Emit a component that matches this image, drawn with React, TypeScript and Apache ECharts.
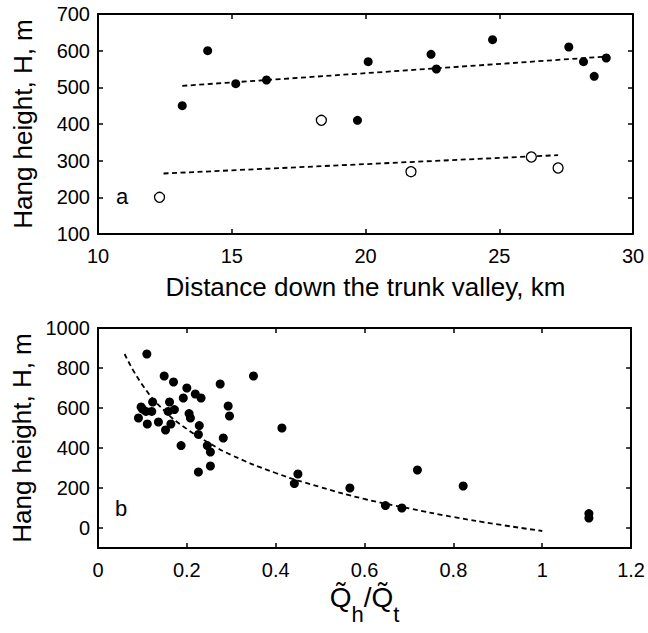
import React, { useEffect, useRef } from 'react';
import * as echarts from 'echarts';

// Panel a: hang height vs distance down the trunk valley
const distFilled = [13.15, 14.1, 15.15, 16.3, 19.7, 20.1, 22.45, 22.65, 24.75, 27.6, 28.15, 28.55, 29.0];
const hangFilled = [450, 600, 510, 520, 410, 570, 590, 550, 630, 610, 570, 530, 580];
const distOpen = [12.3, 18.35, 21.7, 26.2, 27.2];
const hangOpen = [200, 410, 270, 310, 280];
const trendUpperX = [13.15, 29.0];
const trendUpperY = [504, 584];
const trendLowerX = [12.45, 27.2];
const trendLowerY = [265, 315];
const distTicks = { min: 10, max: 30, interval: 5 };
const hangTicksA = { min: 100, max: 700, interval: 100 };

// Panel b: hang height vs discharge ratio
const qRatio = [
  0.110, 0.149, 0.170, 0.200, 0.192, 0.219, 0.232, 0.275, 0.350, 0.293, 0.296, 0.414,
  0.282, 0.123, 0.161, 0.097, 0.091, 0.111, 0.121, 0.108, 0.100, 0.136, 0.158, 0.172,
  0.164, 0.152, 0.205, 0.208, 0.228, 0.226, 0.187, 0.246, 0.253, 0.253, 0.226, 0.450,
  0.442, 0.567, 0.719, 0.822, 0.647, 0.684, 1.105, 1.105,
];
const hangB = [
  870, 760, 730, 700, 650, 670, 650, 720, 760, 610, 560, 500,
  450, 630, 630, 605, 550, 520, 583, 583, 595, 530, 583, 592,
  520, 490, 572, 550, 512, 468, 412, 412, 380, 310, 280, 270,
  222, 200, 290, 210, 112, 100, 72, 50,
];
const curveQ = [0.06, 0.1, 0.15, 0.2, 0.25, 0.3, 0.4, 0.5, 0.6, 0.7, 0.8, 0.9, 1.0];
const curveH = [870, 715, 585, 495, 425, 365, 275, 205, 145, 98, 55, 18, -15];
const qTicks = { min: 0, max: 1.2, interval: 0.2 };
const hangRangeB = { min: -100, max: 1000 };
const hangTicksB = [0, 200, 400, 600, 800, 1000];

const FONT = '"Liberation Sans", Arial, Helvetica, sans-serif';
const zip = (xs: number[], ys: number[]) => xs.map((x, i) => [x, ys[i]]);

export default function App() {
  const ref = useRef<HTMLDivElement>(null);
  useEffect(() => {
    const chart = echarts.init(ref.current!, null, { renderer: 'svg' });
    const line = { show: true, onZero: false, lineStyle: { color: '#000', width: 2 } };
    const tick = { show: true, inside: true, length: 5, lineStyle: { color: '#000', width: 1.5 } };
    const plain = (v: number) => String(Math.round(v * 1000) / 1000);
    const labelStyle = { color: '#000', fontSize: 20, fontFamily: FONT, formatter: plain };
    const nameStyle = { color: '#000', fontSize: 26, fontFamily: FONT };
    const hidden = { show: false };

    const xAxes: any[] = [
      {
        type: 'value', gridIndex: 0, position: 'bottom', ...distTicks,
        axisLine: line, axisTick: tick, splitLine: hidden,
        axisLabel: { ...labelStyle, margin: 12 },
        name: 'Distance down the trunk valley, km', nameLocation: 'middle', nameGap: 40,
        nameTextStyle: nameStyle,
      },
      {
        type: 'value', gridIndex: 0, position: 'top', ...distTicks,
        axisLine: line, axisTick: tick, splitLine: hidden, axisLabel: hidden,
      },
      {
        type: 'value', gridIndex: 1, position: 'bottom', ...qTicks,
        axisLine: line, axisTick: tick, splitLine: hidden,
        axisLabel: { ...labelStyle, margin: 12 },
        name: '{q|Q\u0303}{s|h}{q|/Q\u0303}{s|t}', nameLocation: 'middle', nameGap: 35,
        nameTextStyle: {
          rich: {
            q: { fontSize: 28, fontFamily: FONT, color: '#000', lineHeight: 30, verticalAlign: 'top' },
            s: { fontSize: 22, fontFamily: FONT, color: '#000', lineHeight: 42, verticalAlign: 'bottom' },
          },
        },
      },
      {
        type: 'value', gridIndex: 1, position: 'top', ...qTicks,
        axisLine: line, axisTick: tick, splitLine: hidden, axisLabel: hidden,
      },
    ];
    const yAxes: any[] = [
      {
        type: 'value', gridIndex: 0, position: 'left', ...hangTicksA,
        axisLine: line, axisTick: tick, splitLine: hidden,
        axisLabel: { ...labelStyle, margin: 8 },
        name: 'Hang height, H, m', nameLocation: 'middle', nameGap: 62, nameRotate: 90,
        nameTextStyle: nameStyle,
      },
      {
        type: 'value', gridIndex: 0, position: 'right', ...hangTicksA,
        axisLine: line, axisTick: tick, splitLine: hidden, axisLabel: hidden,
      },
      {
        type: 'value', gridIndex: 1, position: 'left', ...hangRangeB,
        axisLine: line, axisTick: { ...tick, customValues: hangTicksB }, splitLine: hidden,
        axisLabel: { ...labelStyle, margin: 8, customValues: hangTicksB },
        name: 'Hang height, H, m', nameLocation: 'middle', nameGap: 62, nameRotate: 90,
        nameTextStyle: nameStyle,
      },
      {
        type: 'value', gridIndex: 1, position: 'right', ...hangRangeB,
        axisLine: line, axisTick: { ...tick, customValues: hangTicksB }, splitLine: hidden,
        axisLabel: { show: false, customValues: hangTicksB },
      },
    ];

    const dashed = { color: '#000', width: 1.8, type: [5, 3.5] as any };
    const dot = { color: '#000', opacity: 1 };
    chart.setOption({
      animation: false,
      backgroundColor: '#fff',
      grid: [
        { left: 98, top: 14, width: 535, height: 220 },
        { left: 98, top: 328, width: 535, height: 220 },
      ],
      xAxis: xAxes,
      yAxis: yAxes,
      series: [
        {
          type: 'line', xAxisIndex: 0, yAxisIndex: 0, data: zip(trendUpperX, trendUpperY),
          showSymbol: false, lineStyle: dashed, z: 1,
        },
        {
          type: 'line', xAxisIndex: 0, yAxisIndex: 0, data: zip(trendLowerX, trendLowerY),
          showSymbol: false, lineStyle: dashed, z: 1,
        },
        {
          type: 'scatter', xAxisIndex: 0, yAxisIndex: 0, data: zip(distFilled, hangFilled),
          symbol: 'circle', symbolSize: 9, itemStyle: dot, z: 3,
        },
        {
          type: 'scatter', xAxisIndex: 0, yAxisIndex: 0, data: zip(distOpen, hangOpen),
          symbol: 'circle', symbolSize: 10,
          itemStyle: { color: '#fff', borderColor: '#000', borderWidth: 1.3, opacity: 1 }, z: 3,
        },
        {
          type: 'line', xAxisIndex: 2, yAxisIndex: 2, data: zip(curveQ, curveH),
          smooth: true, showSymbol: false, lineStyle: dashed, z: 1,
        },
        {
          type: 'scatter', xAxisIndex: 2, yAxisIndex: 2, data: zip(qRatio, hangB),
          symbol: 'circle', symbolSize: 9, itemStyle: dot, z: 3,
        },
      ],
      graphic: [
        { type: 'text', left: 116, top: 185, style: { text: 'a', fontSize: 22, fontFamily: FONT, fill: '#000' } },
        { type: 'text', left: 115, top: 497, style: { text: 'b', fontSize: 22, fontFamily: FONT, fill: '#000' } },
      ],
    });
    return () => chart.dispose();
  }, []);
  return (
    <div
      ref={ref}
      style={{ position: 'fixed', left: 0, top: 0, width: 648, height: 633, background: '#fff' }}
    />
  );
}
